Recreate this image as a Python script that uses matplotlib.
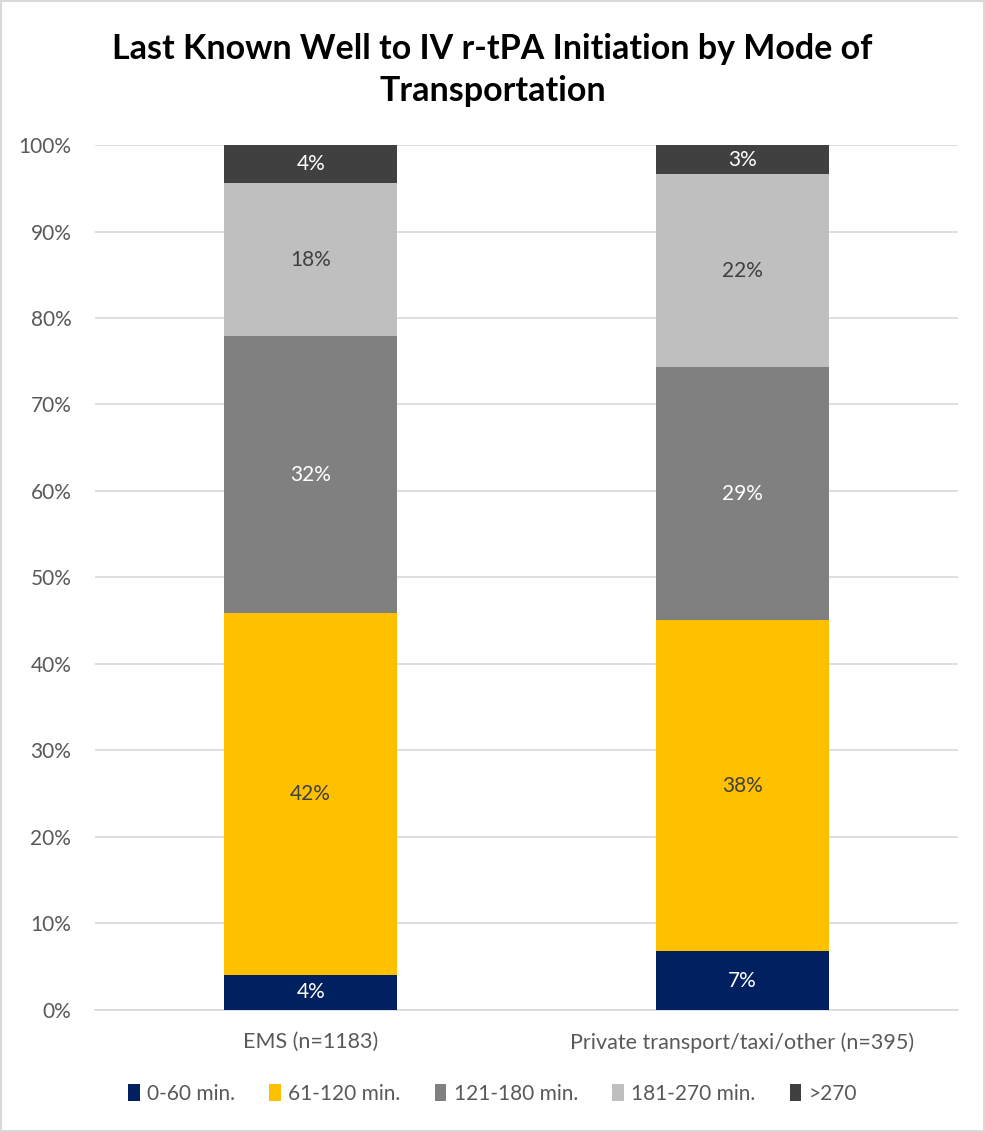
import matplotlib.pyplot as plt
import numpy as np

plt.rcParams['font.family'] = ['Lato', 'DejaVu Sans']

categories = ['EMS (n=1183)', 'Private transport/taxi/other (n=395)']
series = ['0-60 min.', '61-120 min.', '121-180 min.', '181-270 min.', '>270']
values = {
    '0-60 min.': [4.05, 6.8],
    '61-120 min.': [41.85, 38.3],
    '121-180 min.': [32.0, 29.2],
    '181-270 min.': [17.7, 22.3],
    '>270': [4.4, 3.4],
}
colors = ['#002060', '#FFC000', '#808080', '#BFBFBF', '#404040']
text_colors = ['white', '#404040', 'white', '#404040', 'white']

fig = plt.figure(figsize=(9.85, 11.32), dpi=100)
ax = fig.add_axes([0.0964, 0.1078, 0.8762, 0.7641])

x = np.arange(len(categories))
bottom = np.zeros(len(categories))
for name, c, tc in zip(series, colors, text_colors):
    v = np.array(values[name])
    ax.bar(x, v, 0.4, bottom=bottom, color=c, label=name, zorder=3)
    for xi, b, vi in zip(x, bottom, v):
        ax.text(xi, b + vi / 2, f'{vi:.0f}%', ha='center', va='center',
                color=tc, fontsize=15, zorder=4)
    bottom += v

ax.set_xlim(-0.5, 1.5)
ax.set_ylim(0, 100)
ax.set_yticks(np.arange(0, 101, 10))
ax.set_yticklabels([f'{t}%' for t in range(0, 101, 10)])
ax.set_xticks(x)
ax.set_xticklabels(categories, fontsize=15.5)
ax.tick_params(axis='both', length=0, labelsize=15, colors='#595959')
ax.tick_params(axis='x', pad=16, labelsize=15.5)
ax.tick_params(axis='y', pad=17)
ax.grid(axis='y', color='#D9D9D9', linewidth=1.2, zorder=0)
for s in ['top', 'right', 'left']:
    ax.spines[s].set_visible(False)
ax.spines['bottom'].set_color('#D9D9D9')
ax.spines['bottom'].set_linewidth(1.2)

fig.text(0.5, 1 - 70 / 1132, 'Last Known Well to IV r-tPA Initiation by Mode of\nTransportation',
         ha='center', va='center', fontsize=24.5, fontweight='bold', linespacing=1.35)

fig.legend(loc='center', bbox_to_anchor=(0.5, 1 - 1094 / 1132), ncol=5, frameon=False,
           fontsize=15, handlelength=0.55, handleheight=0.85, handletextpad=0.35,
           columnspacing=1.65, labelcolor='#595959')

fig.patches.append(plt.Rectangle((0.001, 0.001), 0.998, 0.998, transform=fig.transFigure,
                                 fill=False, edgecolor='#D9D9D9', linewidth=1.5))

fig.savefig('out.png', dpi=100)
